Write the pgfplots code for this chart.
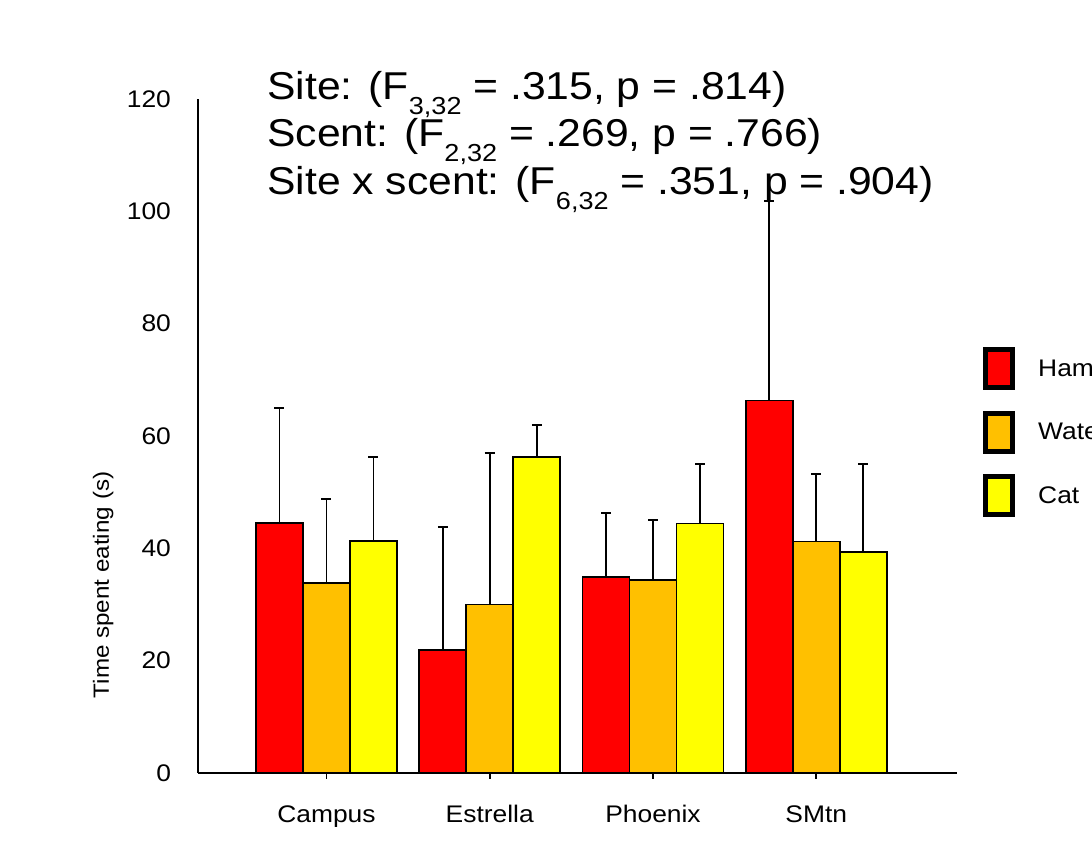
\documentclass[border=0pt]{standalone}
\usepackage{fontspec}
\setmainfont{Liberation Sans}[FakeStretch=1.1]
\usepackage{pgfplots}
\pgfplotsset{compat=1.18}
\usepackage{pgfplotstable}
\definecolor{cHam}{RGB}{255,0,0}
\definecolor{cWat}{RGB}{255,192,0}
\definecolor{cCat}{RGB}{255,255,0}
\pgfplotstableread{
x  ham  hamerr  wat  waterr  cat  caterr
0  44.5 20.5    33.8 15.0    41.3 15.0
1  21.9 21.9    30.0 27.0    56.3 5.7
2  34.9 11.4    34.4 10.6    44.4 10.6
3  66.3 35.5    41.2 12.0    39.3 15.8
}\datatab
\begin{document}
\begin{tikzpicture}
\path[use as bounding box] (0,0) rectangle (546pt,427.5pt);
\clip (0,0) rectangle (546pt,427.5pt);
\begin{axis}[
  at={(99pt,41pt)}, anchor=south west,
  scale only axis, width=379.5pt, height=337pt,
  xmin=-0.787, xmax=3.862, ymin=0, ymax=120,
  axis x line=bottom, axis y line=left,
  axis line style={line width=1pt, -},
  clip=false,
  ybar=0pt, bar width=23.5pt,
  xtick={0,1,2,3}, xticklabels={Campus,Estrella,Phoenix,SMtn},
  x tick style={black, line width=0.8pt}, tick align=outside,
  major tick length=3pt,
  ytick={0,20,...,120}, y tick style={draw=none},
  /pgf/number format/assume math mode=true,
  ticklabel style={font=\fontsize{12}{14}\selectfont},
  yticklabel style={anchor=east, xshift=-7pt},
  xticklabel style={anchor=base, yshift=-22pt},
  ylabel={Time spent eating (s)},
  ylabel style={at={(axis description cs:-0.125,0.279)}, anchor=center, rotate=0, font=\fontsize{11}{13}\selectfont},
  legend style={at={(axis description cs:1.034,0.6476)}, anchor=north west, draw=none, fill=none, inner sep=0pt,
    font=\fontsize{12}{14}\selectfont, nodes={inner sep=0pt}, row sep=0pt,
    /tikz/every odd column/.append style={column sep=11.5pt}},
  legend cell align=left,
  legend image code/.code={
    \path[draw=none,fill=none] (0pt,-15.375pt) rectangle (16pt,16.375pt);
    \draw[#1,draw=black,line width=2.5pt] (1.25pt,-9pt) rectangle (14.75pt,10pt);
  },
  every axis plot/.append style={draw=black, line width=0.8pt,
    error bars/y dir=plus, error bars/y explicit,
    error bars/error mark options={black, line width=1pt, mark size=2.5pt, rotate=90},
    error bars/error bar style={black, line width=0.9pt}},
]
\addplot[fill=cHam] table[x=x, y=ham, y error=hamerr] {\datatab};
\addlegendentry{Hamster}
\addplot[fill=cWat] table[x=x, y=wat, y error=waterr] {\datatab};
\addlegendentry{Water}
\addplot[fill=cCat] table[x=x, y=cat, y error=caterr] {\datatab};
\addlegendentry{Cat}
\node[anchor=base west, font=\fontsize{19.4}{19.4}\selectfont, inner sep=0pt] at (axis description cs:0.0909,0.9985) {Site: (F\raisebox{-7.5pt}{\fontsize{12.3}{12.3}\selectfont 3,32} = .315, p = .814)};
\node[anchor=base west, font=\fontsize{19.4}{19.4}\selectfont, inner sep=0pt] at (axis description cs:0.0909,0.9288) {Scent: (F\raisebox{-7.5pt}{\fontsize{12.3}{12.3}\selectfont 2,32} = .269, p = .766)};
\node[anchor=base west, font=\fontsize{19.4}{19.4}\selectfont, inner sep=0pt] at (axis description cs:0.0909,0.8576) {Site x scent: (F\raisebox{-7.5pt}{\fontsize{12.3}{12.3}\selectfont 6,32} = .351, p = .904)};
\end{axis}
\end{tikzpicture}
\end{document}
